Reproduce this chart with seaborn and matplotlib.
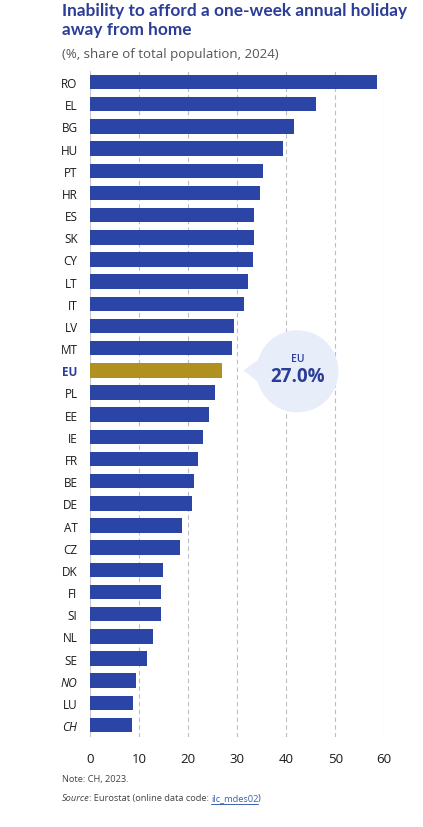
import matplotlib
matplotlib.use("Agg")
import matplotlib.pyplot as plt
import seaborn as sns
import pandas as pd
from matplotlib.patches import Circle, Polygon
from matplotlib.transforms import IdentityTransform

countries = ["RO", "EL", "BG", "HU", "PT", "HR", "ES", "SK", "CY", "LT", "IT", "LV",
             "MT", "EU", "PL", "EE", "IE", "FR", "BE", "DE", "AT", "CZ", "DK", "FI",
             "SI", "NL", "SE", "NO", "LU", "CH"]
values = [58.6, 46.1, 41.5, 39.3, 35.2, 34.7, 33.4, 33.4, 33.2, 32.2, 31.4, 29.3,
          28.9, 27.0, 25.5, 24.2, 23.0, 22.0, 21.3, 20.8, 18.8, 18.4, 14.9, 14.5,
          14.4, 12.9, 11.6, 9.3, 8.8, 8.6]
x_ticks = [0, 10, 20, 30, 40, 50, 60]
italic_labels = ["NO", "CH"]
highlight = "EU"

TITLE = "Inability to afford a one-week annual holiday\naway from home"
SUBTITLE = "(%, share of total population, 2024)"
NOTE = "Note: CH, 2023."

BLUE = "#2A45A6"
GOLD = "#B0901F"
TXT_BLUE = "#2B3D96"
BUBBLE = "#E7EEF9"

sns.set_theme(style="white")
FONT = ["Open Sans", "DejaVu Sans"]
plt.rcParams["font.family"] = FONT

df = pd.DataFrame({"country": countries, "value": values})
palette = {c: (GOLD if c == highlight else BLUE) for c in countries}

fig = plt.figure(figsize=(4.23, 8.28), dpi=100)
ax = fig.add_axes([0.2128, 0.1087, 0.6957, 0.8043])

sns.barplot(data=df, x="value", y="country", hue="country", palette=palette,
            orient="h", width=0.65, legend=False, ax=ax, saturation=1,
            edgecolor="none", zorder=3)

ax.set_xlim(0, 60)
ax.set_ylim(29.54, -0.5)
ax.set_xticks(x_ticks)
ax.set_xticklabels([str(t) for t in x_ticks])
ax.set_xlabel("")
ax.set_ylabel("")
for s in ax.spines.values():
    s.set_visible(False)
ax.grid(False)
for t in x_ticks[1:]:
    ax.axvline(t, color="#BDBDBD", lw=0.8, ls=(0, (4, 3)), zorder=1)
ax.axvline(0, color="#C8C8C8", lw=0.8, zorder=1)

ax.tick_params(axis="x", length=0, pad=11, labelsize=9.5, labelcolor="#1a1a1a")
ax.tick_params(axis="y", length=0, pad=9, labelsize=8.5, labelcolor="#1a1a1a")
for lab in ax.get_yticklabels():
    txt = lab.get_text()
    if txt in italic_labels:
        lab.set_fontstyle("italic")
    if txt == highlight:
        lab.set_color(TXT_BLUE)
        lab.set_fontweight("bold")

# Title / subtitle
fig.text(62 / 423, 1 - 3 / 828, TITLE, ha="left", va="top", fontsize=12.4,
         fontweight="bold", color=TXT_BLUE, linespacing=1.2,
         family=["Lato", "DejaVu Sans"])
fig.text(62 / 423, 1 - 48 / 828, SUBTITLE, ha="left", va="top", fontsize=9.5,
         color="#555555")

# Bubble callout
fig.canvas.draw()
eu_idx = countries.index(highlight)
eu_val = values[eu_idx]
end_x, end_y = ax.transData.transform((eu_val, eu_idx))
tip = (end_x + 21, end_y)
cx, cy = tip[0] + 54, tip[1] - 1
r = 41
fig.patches.append(Polygon([tip, (cx - 30, cy + 18), (cx - 30, cy - 18)], closed=True,
                           facecolor=BUBBLE, edgecolor="none",
                           transform=IdentityTransform(), zorder=5, figure=fig))
fig.patches.append(Circle((cx, cy), r, facecolor=BUBBLE, edgecolor="none",
                          transform=IdentityTransform(), zorder=5, figure=fig))
fig.text(cx / 423, (cy + 13) / 828, highlight,
         ha="center", va="center", fontsize=7.5, fontweight="semibold",
         color=TXT_BLUE, zorder=6)
fig.text(cx / 423, (cy - 5) / 828,
         f"{eu_val:.1f}%", ha="center", va="center", fontsize=13.5,
         fontweight="bold", color=TXT_BLUE, zorder=6)

# Footer
fig.text(62 / 423, 1 - 780 / 828, NOTE, ha="left", va="center", fontsize=6.7,
         color="#444444")
renderer = fig.canvas.get_renderer()
parts = [("Source", {"style": "italic", "color": "#444444"}),
         (": Eurostat (online data code: ", {"color": "#444444"}),
         ("ilc_mdes02", {"color": "#3A62B0"}),
         (")", {"color": "#444444"})]
xpos = 62
ypos = 799
for s, kw in parts:
    t = fig.text(xpos / 423, 1 - ypos / 828, s, ha="left", va="center",
                 fontsize=6.7, **kw)
    bb = t.get_window_extent(renderer)
    if s == "ilc_mdes02":
        fig.lines.append(plt.Line2D([bb.x0, bb.x1], [bb.y0 - 1, bb.y0 - 1],
                                    color="#3A62B0", lw=0.7,
                                    transform=IdentityTransform(), figure=fig))
    xpos = bb.x1 - 0.5

fig.savefig("out.png", dpi=100, facecolor="white")
